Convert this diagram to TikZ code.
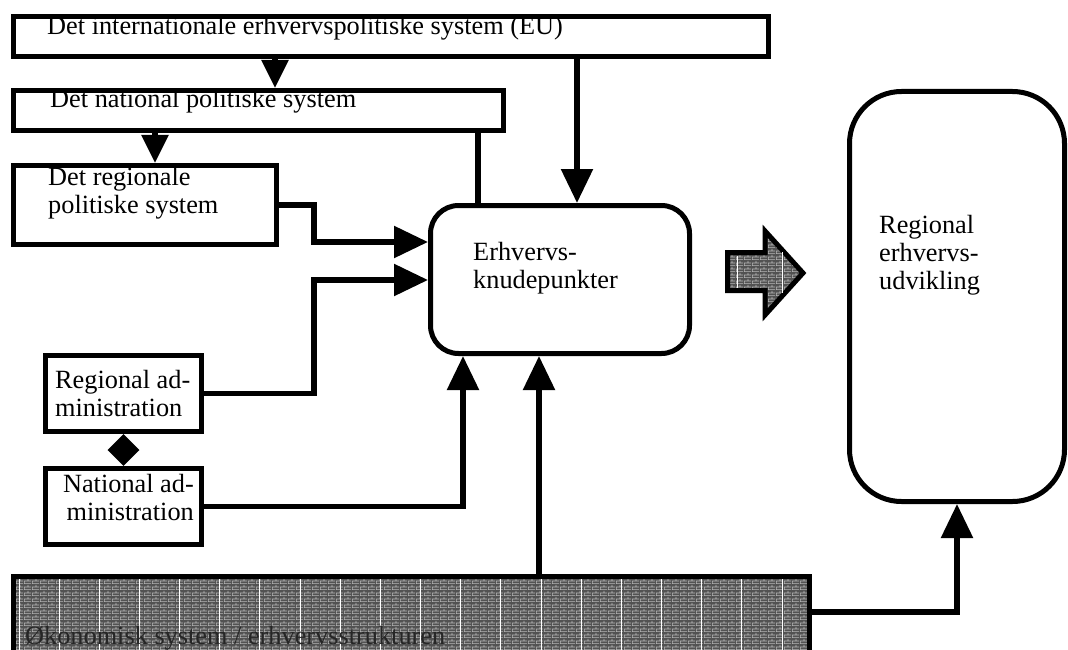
\documentclass[tikz,border=0pt]{standalone}
\usepackage{fontspec}
\setmainfont{Liberation Serif}
\usetikzlibrary{arrows.meta,patterns}
\pgfdeclarepatternformonly{mybricks}{\pgfpointorigin}{\pgfpoint{8pt}{6pt}}{\pgfpoint{8pt}{6pt}}{%
  \pgfsetlinewidth{0.8pt}%
  \pgfpathmoveto{\pgfpoint{0pt}{0.4pt}}\pgfpathlineto{\pgfpoint{8pt}{0.4pt}}%
  \pgfpathmoveto{\pgfpoint{0pt}{3.4pt}}\pgfpathlineto{\pgfpoint{8pt}{3.4pt}}%
  \pgfpathmoveto{\pgfpoint{0.4pt}{0.4pt}}\pgfpathlineto{\pgfpoint{0.4pt}{3.4pt}}%
  \pgfpathmoveto{\pgfpoint{4.4pt}{3.4pt}}\pgfpathlineto{\pgfpoint{4.4pt}{6pt}}%
  \pgfusepath{stroke}}
\begin{document}
\begin{tikzpicture}[x=1pt,y=-1pt,
  box/.style={draw, line width=5pt, rectangle, inner sep=0pt, fill=white},
  rbox/.style={box, rounded corners=#1},
  lab/.style={inner sep=0pt, font=\fontsize{26.3}{28}\selectfont, anchor=base west},
  mlab/.style={inner sep=0pt, font=\fontsize{26.3}{28}\selectfont, align=left, anchor=north west},
  conn/.style={line width=5.5pt},
  arr/.style={conn, -{Triangle[width=31pt,length=34pt]}},
  arrs/.style={conn, -{Triangle[width=26pt,length=28pt]}},
  darr/.style={conn, {Triangle[width=31pt,length=16pt]}-{Triangle[width=31pt,length=16pt]}},
  brick/.style={preaction={fill=black!68}, pattern=mybricks, pattern color=white!72!black},
  grid/.style={white, line width=1pt}
]
\useasboundingbox (0,0) rectangle (1068,650);
\fill[white] (0,0) rectangle (1068,650);

% bottom box
\node[box, brick, minimum width=796pt, minimum height=103.5pt] (eco) at (411.5,628.25) {};
\foreach \k in {0,...,19} \draw[grid] (19+40.16*\k,579) -- (19+40.16*\k,650);
\node[lab, text=black!85] (ecotxt) at (25,644) {Økonomisk system / erhvervsstrukturen};

% boxes
\node[box, minimum width=755pt, minimum height=40pt] (eu) at (391,36.5) {};
\node[box, minimum width=490pt, minimum height=40pt] (nat) at (258.5,110.5) {};
\node[box, minimum width=263pt, minimum height=79pt] (reg) at (145,205) {};
\node[box, minimum width=156pt, minimum height=76pt] (radm) at (123.5,393.5) {};
\node[box, minimum width=156pt, minimum height=76pt] (nadm) at (123.5,506.5) {};
\node[rbox=28pt, minimum width=259pt, minimum height=148pt] (erh) at (560,279.5) {};
\node[rbox=52pt, minimum width=215pt, minimum height=410pt] (dev) at (957,296.5) {};

% labels
\node[lab] (eutxt) at (47,35) {Det internationale erhvervspolitiske system (EU)};
\node[lab] (nattxt) at (50,108) {Det national politiske system};
\node[mlab] (regtxt) at (48,165.4) {\strut Det regionale\\politiske system};
\node[mlab] (radmtxt) at (55,368.4) {\strut Regional ad-\\ministration};
\node[mlab, align=right, anchor=north east] (nadmtxt) at (194,472.4) {\strut National ad-\\ministration};
\node[mlab] (erhtxt) at (473,240.4) {\strut Erhvervs-\\knudepunkter};
\node[mlab] (devtxt) at (879,213.4) {\strut Regional\\erhvervs-\\udvikling};

% helper coordinates
\coordinate (xa) at (275,0);
\coordinate (xb) at (155,0);
\coordinate (xc) at (478,0);
\coordinate (xd) at (577,0);
\coordinate (k1) at (314,242);
\coordinate (k2) at (314,280);
\coordinate (xe) at (463,0);
\coordinate (xf) at (539,0);
\coordinate (k4) at (957,612);

% connectors
\draw[arrs] (eu.south -| xa) -- (nat.north -| xa);
\draw[arrs] (nat.south -| xb) -- (reg.north -| xb);
\draw[conn] (nat.south -| xc) -- (erh.north -| xc);
\draw[arr] (eu.south -| xd) -- (erh.north -| xd);
\draw[arr] (reg.east) -| (k1) -- (k1 -| erh.west);
\draw[arr] (radm.east) -| (k2) -- (k2 -| erh.west);
\draw[arr] (nadm.east) -| (erh.south -| xe);
\draw[arr] (eco.north -| xf) -- (erh.south -| xf);
\draw[arr] (eco.east |- k4) -| (dev.south);
\draw[darr] (radm.south) -- (nadm.north);

% big block arrow
\draw[line width=5pt, brick, line join=miter]
  (727.5,252.5) -- (765,252.5) -- (765,231) -- (803,273) -- (765,315) -- (765,290.5) -- (727.5,290.5) -- cycle;
\draw[grid] (737,256) -- (737,288);
\draw[grid] (782,252) -- (782,293);
\end{tikzpicture}
\end{document}
